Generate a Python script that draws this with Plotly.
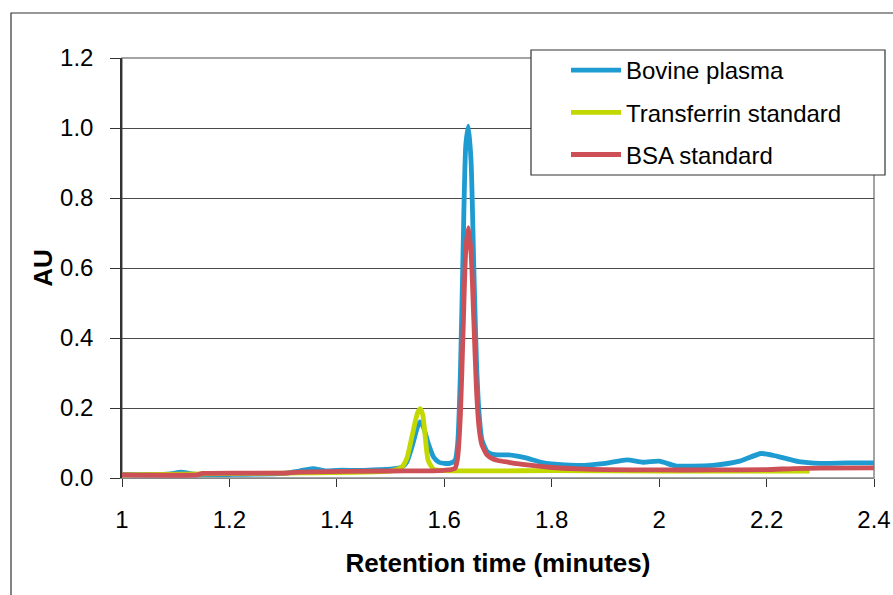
import plotly.graph_objects as go

# ---- data ----
bovine_x = [1.00, 1.05, 1.09, 1.11, 1.13, 1.15, 1.20, 1.30, 1.33, 1.355, 1.38, 1.40, 1.45, 1.50, 1.52,
            1.53, 1.54, 1.55, 1.555, 1.56, 1.57, 1.58, 1.59, 1.60, 1.61, 1.62, 1.625, 1.63, 1.635, 1.64,
            1.645, 1.65, 1.655, 1.66, 1.665, 1.67, 1.68, 1.69, 1.70, 1.72, 1.75, 1.78, 1.80, 1.85, 1.90,
            1.94, 1.97, 2.00, 2.03, 2.06, 2.10, 2.15, 2.19, 2.22, 2.26, 2.30, 2.35, 2.40]
bovine_y = [0.010, 0.010, 0.012, 0.017, 0.012, 0.010, 0.010, 0.013, 0.020, 0.027, 0.020, 0.022, 0.022, 0.025, 0.030,
            0.045, 0.090, 0.145, 0.160, 0.150, 0.100, 0.060, 0.045, 0.042, 0.042, 0.050, 0.100, 0.300, 0.650, 0.950,
            1.005, 0.900, 0.600, 0.330, 0.180, 0.110, 0.075, 0.068, 0.066, 0.066, 0.058, 0.045, 0.040, 0.036, 0.042,
            0.052, 0.045, 0.048, 0.035, 0.034, 0.036, 0.048, 0.070, 0.062, 0.047, 0.042, 0.043, 0.043]

transferrin_x = [1.00, 1.15, 1.30, 1.50, 1.52, 1.53, 1.54, 1.55, 1.555, 1.56, 1.565, 1.57, 1.58, 1.60,
                 1.80, 2.00, 2.28]
transferrin_y = [0.009, 0.012, 0.014, 0.020, 0.030, 0.055, 0.120, 0.185, 0.198, 0.180, 0.110, 0.050, 0.025, 0.021,
                 0.021, 0.020, 0.020]

bsa_x = [1.00, 1.14, 1.15, 1.30, 1.33, 1.50, 1.60, 1.62, 1.625, 1.63, 1.635, 1.64, 1.645, 1.65, 1.655,
         1.66, 1.665, 1.67, 1.68, 1.69, 1.70, 1.72, 1.75, 1.80, 1.85, 1.90, 2.00, 2.10, 2.20, 2.25, 2.30, 2.40]
bsa_y = [0.009, 0.009, 0.013, 0.014, 0.017, 0.020, 0.022, 0.028, 0.060, 0.180, 0.420, 0.650, 0.715, 0.640, 0.450,
         0.250, 0.140, 0.095, 0.065, 0.055, 0.050, 0.045, 0.038, 0.030, 0.026, 0.024, 0.023, 0.023, 0.024, 0.027,
         0.028, 0.029]

series_names = ["Bovine plasma", "Transferrin standard", "BSA standard"]
colors = ["#1E9BD0", "#C2D800", "#CD5057"]
x_ticks = [1, 1.2, 1.4, 1.6, 1.8, 2, 2.2, 2.4]
y_ticks = [0.0, 0.2, 0.4, 0.6, 0.8, 1.0, 1.2]

FONT = "Arial, Liberation Sans, sans-serif"

fig = go.Figure()
for i, (xs, ys) in enumerate([(bovine_x, bovine_y), (transferrin_x, transferrin_y), (bsa_x, bsa_y)]):
    fig.add_trace(go.Scatter(
        x=xs, y=ys, mode="lines", name=series_names[i], legendgroup=str(i),
        line=dict(color=colors[i], width=4.8, shape="spline", smoothing=0.6),
    ))

W, H = 893, 595
L, R, T, B = 122, 19, 58, 117
pw, ph = W - L - R, H - T - B

def px(xp):
    return (xp - L) / pw

def py(yp):
    return (H - B - yp) / ph

fig.update_layout(
    width=W, height=H,
    margin=dict(l=L, r=R, t=T, b=B, autoexpand=False),
    paper_bgcolor="white", plot_bgcolor="white",
    font=dict(family=FONT, size=24, color="#000000"),
    showlegend=True,
    legend=dict(
        x=px(566), y=py(48), xanchor="left", yanchor="top",
        bgcolor="rgba(0,0,0,0)", borderwidth=0,
        font=dict(size=24, family=FONT, color="#000000"),
        itemwidth=50, tracegroupgap=8, traceorder="grouped",
    ),
    xaxis=dict(
        range=[1, 2.4], tickvals=x_ticks, ticktext=[str(v) for v in x_ticks],
        showgrid=False, zeroline=False, showline=True, linecolor="#868686", linewidth=1,
        ticks="outside", ticklen=8, tickcolor="#333333", ticklabelstandoff=12,
        tickfont=dict(size=24, family=FONT), automargin=False,
        title=dict(text="<b>Retention time (minutes)</b>", font=dict(size=26, family=FONT), standoff=22),
    ),
    yaxis=dict(
        range=[0, 1.2], tickvals=y_ticks, ticktext=[f"{v:.1f}" for v in y_ticks],
        showgrid=True, gridcolor="#4A4A4A", gridwidth=1, zeroline=False,
        showline=True, linecolor="#333333", linewidth=1.5,
        ticks="outside", ticklen=10, tickcolor="#333333", ticklabelstandoff=12,
        tickfont=dict(size=24, family=FONT), automargin=False,
        title=dict(text="<b>AU</b>", font=dict(size=26, family=FONT), standoff=0),
    ),
    shapes=[
        # plot area border (right and top edges)
        dict(type="rect", xref="paper", yref="paper", x0=0, x1=1, y0=0, y1=1,
             line=dict(color="#868686", width=1.5), fillcolor="rgba(0,0,0,0)", layer="below"),
        # outer chart border
        dict(type="rect", xref="paper", yref="paper", x0=px(11), x1=px(905), y0=py(13), y1=py(610),
             line=dict(color="#333333", width=1.2), fillcolor="rgba(0,0,0,0)", layer="above"),
        # legend box
        dict(type="rect", xref="paper", yref="paper", x0=px(531), x1=px(885), y0=py(50), y1=py(175),
             line=dict(color="#333333", width=1.2), fillcolor="white", layer="above"),
    ],
)

fig.write_html("out.html")
